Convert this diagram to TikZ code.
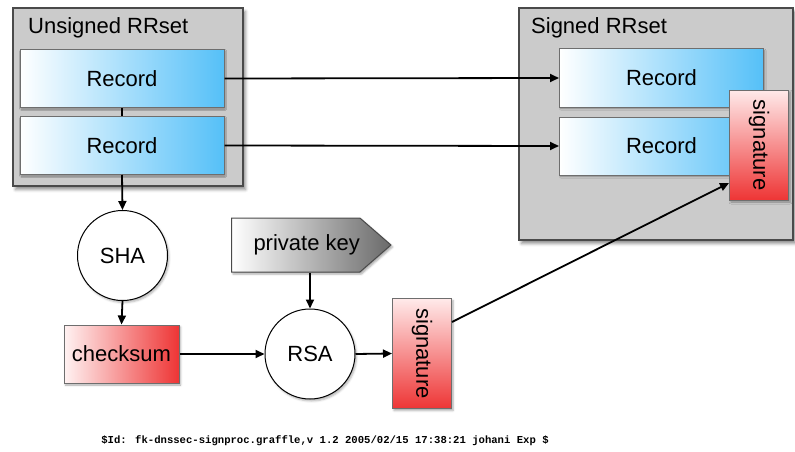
\documentclass[tikz,border=0pt]{standalone}
\usepackage{fontspec}
\setmainfont{Liberation Sans}
\newfontfamily\footmono{Liberation Mono}
\usepackage{graphicx}
\usetikzlibrary{shapes.symbols,shadows.blur,arrows.meta,calc}

\definecolor{panelgray}{HTML}{CBCBCB}
\definecolor{panelline}{HTML}{4A4A4A}
\definecolor{recblue}{HTML}{55C0F8}
\definecolor{sigred}{HTML}{EE3535}
\definecolor{sigpink}{HTML}{FFEAEA}
\definecolor{keygray}{HTML}{6A6A6A}

\tikzset{
  panel/.style={draw=panelline, line width=1.2pt, fill=panelgray, inner sep=0pt,
    blur shadow={shadow xshift=2.5pt, shadow yshift=-3.5pt, shadow blur radius=3pt, shadow opacity=45}},
  paneltitle/.style={anchor=base west, inner sep=0pt},
  recbox/.style={draw=panelline!80, line width=1pt, left color=white, right color=recblue,
    minimum width=204pt, minimum height=58pt, inner sep=0pt,
    blur shadow={shadow xshift=1.2pt, shadow yshift=-1.5pt, shadow blur radius=1.5pt, shadow opacity=35}},
  sigbox/.style={draw=panelline!80, line width=1pt, top color=sigpink, bottom color=sigred,
    minimum width=59pt, minimum height=110pt, inner sep=0pt,
    blur shadow={shadow xshift=1.5pt, shadow yshift=-2pt, shadow blur radius=2pt, shadow opacity=35}},
  sumbox/.style={draw=panelline!80, line width=1pt, left color=sigpink!60!white, right color=sigred,
    minimum width=115pt, minimum height=58pt, inner sep=0pt,
    blur shadow={shadow xshift=1.5pt, shadow yshift=-2pt, shadow blur radius=2pt, shadow opacity=35}},
  algo/.style={circle, draw=black, line width=1pt, fill=white, minimum size=90pt, inner sep=0pt,
    blur shadow={shadow xshift=1.5pt, shadow yshift=-2pt, shadow blur radius=2pt, shadow opacity=30}},
  keyshape/.style={signal, signal to=east, signal pointer angle=82, draw=panelline, line width=1pt,
    left color=white, right color=keygray, minimum width=157pt, minimum height=54pt, inner sep=0pt,
    blur shadow={shadow xshift=1.5pt, shadow yshift=-2pt, shadow blur radius=2pt, shadow opacity=35}},
  flow/.style={line width=1.8pt, -{Triangle[length=9pt,width=8pt]}},
  link/.style={line width=1.8pt}
}

\begin{document}
\begin{tikzpicture}[x=1pt, y=-1pt, font=\fontsize{22}{26}\selectfont]
  \useasboundingbox (0,0) rectangle (795,452);

  % the two record sets
  \node[panel, minimum width=230pt, minimum height=178pt] (uset) at (128,97) {};
  \node[paneltitle] (utitle) at (28,34) {Unsigned RRset};
  \node[panel, minimum width=274pt, minimum height=232pt] (sset) at (656,124) {};
  \node[paneltitle] (stitle) at (531,34) {Signed RRset};

  % records
  \node[recbox] (ur1) at (122,78.5) {Record};
  \node[recbox] (ur2) at (122,145.5) {Record};
  \node[recbox] (sr1) at (661.5,78) {Record};
  \node[recbox] (sr2) at (661.5,146) {Record};
  \node[sigbox] (ssig) at (759,145) {\rotatebox{-90}{signature}};

  % signing pipeline
  \node[algo] (sha) at (122.5,255.5) {SHA};
  \node[sumbox] (sum) at (121.5,354) {checksum};
  \node[keyshape, anchor=west] (key) at (231,245) {\hspace*{22pt}private key};
  \node[algo] (rsa) at (310,354) {RSA};
  \node[sigbox] (sig) at (422,353.5) {\rotatebox{-90}{signature}};

  % connectors
  \draw[link] (ur1) -- (ur2);
  \draw[flow] (ur1.east) -- (sr1.west);
  \draw[flow] (ur2.east) -- (sr2.west);
  \draw[flow] (ur2.south) -- (sha.north);
  \draw[flow] (sha.south) -- (sum.north);
  \draw[flow] (key.south -| rsa.north) -- (rsa.north);
  \draw[flow] (sum.east) -- (rsa.west);
  \draw[flow] (rsa.east) -- (sig.west);
  \draw[flow] ([yshift=31.5pt]sig.east) -- ([yshift=-38pt]ssig.west);

  % revision stamp
  \node[font=\footmono\bfseries\fontsize{10.6}{12}\selectfont] (rev) at (325,441)
    {\$Id: fk-dnssec-signproc.graffle,v 1.2 2005/02/15 17:38:21 johani Exp \$};
\end{tikzpicture}
\end{document}
